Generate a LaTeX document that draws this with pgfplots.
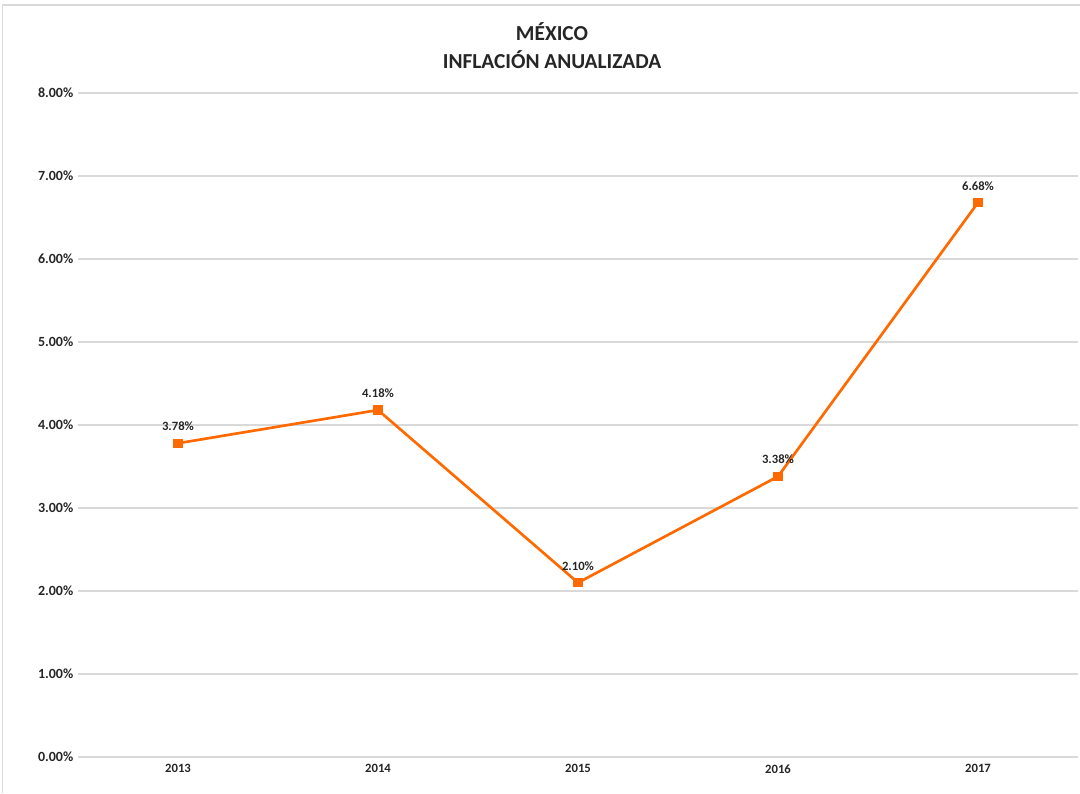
\documentclass[border=0pt]{standalone}
\usepackage{pgfplots}
\pgfplotsset{compat=1.18}
\usepackage{fontspec}
\setmainfont{Carlito}
\definecolor{lineor}{HTML}{FF6A00}
\definecolor{txt}{HTML}{262626}
\definecolor{gridc}{HTML}{D9D9D9}
\begin{document}
\begin{tikzpicture}
\path[use as bounding box] (0,0) rectangle (810pt,594.75pt);
\draw[gridc, line width=0.8pt] (2pt,0) -- (2pt,591pt) -- (810pt,591pt);
\node[font=\bfseries\fontsize{16}{19}\selectfont, text=txt] at (414pt,570.75pt) {MÉXICO};
\node[font=\bfseries\fontsize{16}{19}\selectfont, text=txt] at (414pt,549.75pt) {INFLACIÓN ANUALIZADA};
\begin{axis}[
  at={(58.5pt,27pt)}, anchor=south west,
  scale only axis, width=750pt, height=498pt,
  xmin=-0.5, xmax=4.5, ymin=0, ymax=8,
  xtick={0,1,2,3,4}, xticklabels={2013,2014,2015,2016,2017},
  ytick={0,1,2,3,4,5,6,7,8},
  yticklabels={0.00\%,1.00\%,2.00\%,3.00\%,4.00\%,5.00\%,6.00\%,7.00\%,8.00\%},
  axis line style={draw=none},
  major tick length=0pt,
  ymajorgrids, grid style={gridc, line width=0.9pt},
  yticklabel style={font=\bfseries\fontsize{10.5}{12}\selectfont, text=txt},
  xticklabel style={font=\bfseries\fontsize{9.5}{11}\selectfont, text=txt, yshift=-2pt},
  /pgf/number format/assume math mode=true,
  nodes near coords={\pgfmathprintnumber[fixed,fixed zerofill,precision=2]{\pgfplotspointmeta}\%},
  point meta=y,
  nodes near coords style={font=\bfseries\fontsize{9.5}{11}\selectfont, text=txt, anchor=south, yshift=5pt},
  clip=false,
]
\addplot[color=lineor, line width=2pt, mark=square*, mark size=2.5pt, mark options={solid, fill=lineor, draw=lineor}]
coordinates {(0,3.78) (1,4.18) (2,2.10) (3,3.38) (4,6.68)};
\end{axis}
\end{tikzpicture}
\end{document}
